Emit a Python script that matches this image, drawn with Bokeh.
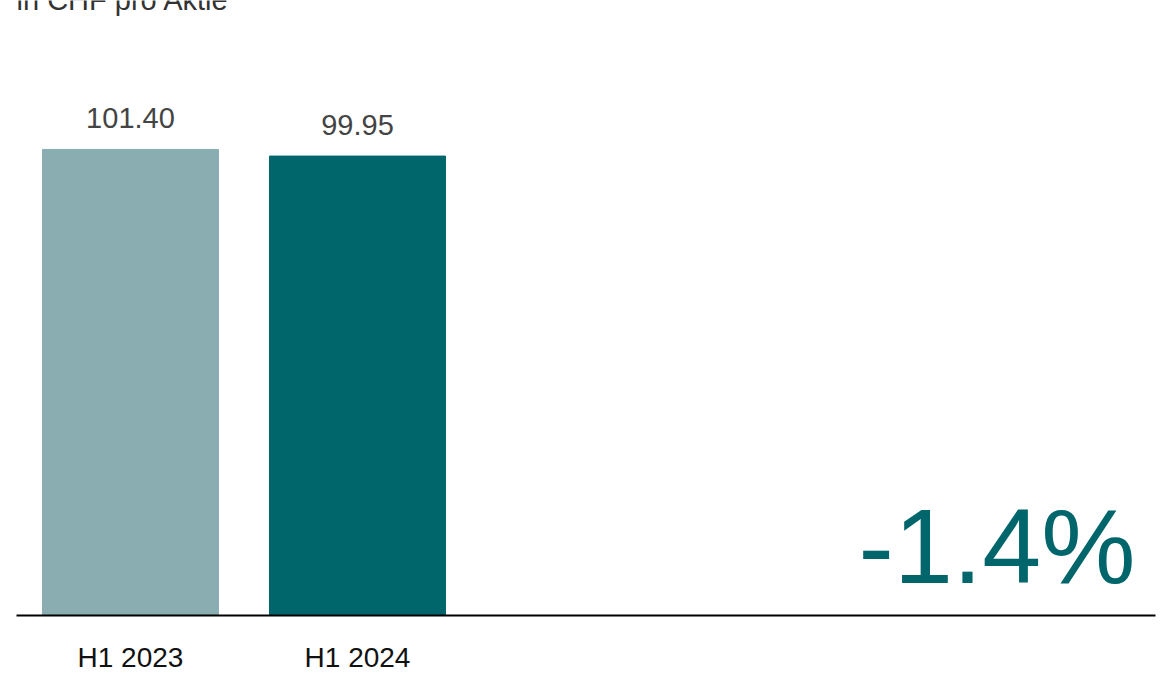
from bokeh.plotting import figure
from bokeh.models import Range1d, FixedTicker, Label, ColumnDataSource
from bokeh.embed import file_html
from bokeh.resources import INLINE
from bokeh.core.properties import value

periods = ["H1 2023", "H1 2024"]
values = [101.40, 99.95]
value_labels = ["101.40", "99.95"]
bar_colors = ["#8aadb2", "#00666b"]
unit_label = "in CHF pro Aktie"
change_label = "-1.4%"

FONT = "Liberation Sans"

xs = list(range(len(periods)))
src = ColumnDataSource(dict(x=xs, top=values, lab=value_labels, color=bar_colors))

p = figure(width=1162, height=676, output_backend="svg", toolbar_location=None,
           x_range=Range1d(-0.502, 4.515), y_range=Range1d(0, 133.8))
p.min_border_left = 16
p.min_border_right = 7
p.min_border_top = 0
p.min_border_bottom = 61
p.outline_line_color = None
p.background_fill_color = "white"
p.border_fill_color = "white"
p.xgrid.visible = False
p.ygrid.visible = False
p.yaxis.visible = False

p.vbar(x="x", top="top", bottom=0, width=0.775, color="color", source=src)
p.text(x="x", y="top", text="lab", source=src, text_align="center",
       text_baseline="alphabetic", y_offset=-31, text_font=value(FONT),
       text_font_size="29px", text_color="#444444")

ax = p.xaxis[0]
ax.ticker = FixedTicker(ticks=xs)
ax.major_label_overrides = {i: s for i, s in enumerate(periods)}
ax.major_tick_line_color = None
ax.minor_tick_line_color = None
ax.major_tick_out = 0
ax.major_tick_in = 0
ax.axis_line_color = "#000000"
ax.axis_line_width = 2
ax.major_label_text_font = FONT
ax.major_label_text_font_size = "28px"
ax.major_label_text_color = "#111111"
ax.major_label_standoff = 26

p.add_layout(Label(x=-0.502, y=133.9, text=unit_label, text_font=FONT,
                   text_font_size="29px", text_color="#333333",
                   text_baseline="alphabetic", text_align="left"))
p.add_layout(Label(x=4.427, y=15.2, text=change_label, text_font=FONT,
                   text_font_size="106px", text_color="#00666b",
                   text_baseline="alphabetic", text_align="right"))

open("out.html", "w").write(file_html(p, INLINE))
